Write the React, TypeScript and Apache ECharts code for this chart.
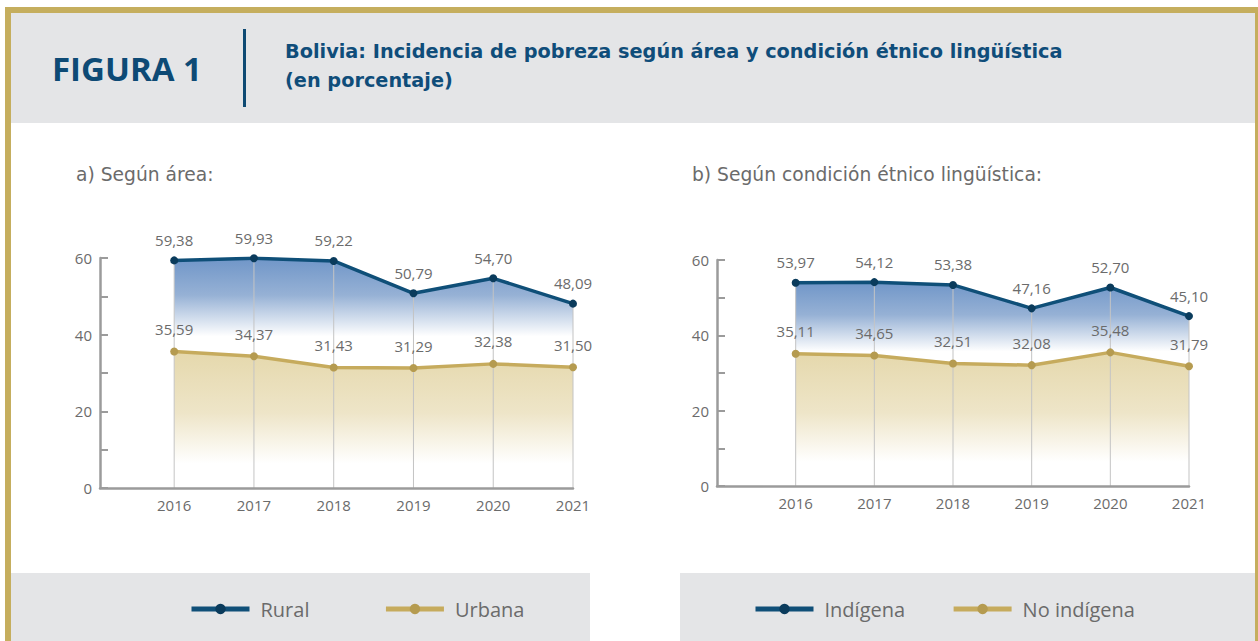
import React, { useEffect, useRef } from 'react';
import * as echarts from 'echarts';

const years = ['2016', '2017', '2018', '2019', '2020', '2021'];
const rural = [59.38, 59.93, 59.22, 50.79, 54.7, 48.09];
const urbana = [35.59, 34.37, 31.43, 31.29, 32.38, 31.5];
const indigena = [53.97, 54.12, 53.38, 47.16, 52.7, 45.1];
const noIndigena = [35.11, 34.65, 32.51, 32.08, 35.48, 31.79];
const yLabelValues = [0, 20, 40, 60];
const yTickValues = [0, 10, 20, 30, 40, 50, 60];

const BLUE = '#0f4f78';
const BLUE_DOT = '#0a3b5c';
const GOLD = '#c6ab5d';
const GOLD_DOT = '#b59b50';
const GOLD_FRAME = '#c5ae5e';
const GRAY_BG = '#e4e5e7';
const TEXT = '#6b6b6b';
const AXIS = '#9b9b9b';
const FONT = 'Open Sans';
const WIDE = 'DejaVu Sans';

const fmt = (v: number) => v.toFixed(2).replace('.', ',');

function pairs(vals: number[]) {
  return years.map((y, i) => [Number(y), vals[i]]);
}

function makeSeries(idx: number, topName: string, top: number[], botName: string, bot: number[]) {
  const common = { xAxisIndex: idx, yAxisIndex: idx };
  return [
    {
      ...common,
      name: topName + ' (área)',
      type: 'line',
      data: pairs(top),
      symbol: 'none',
      lineStyle: { width: 0 },
      silent: true,
      z: 1,
      areaStyle: {
        opacity: 1,
        color: new echarts.graphic.LinearGradient(0, 0, 0, 1, [
          { offset: 0, color: 'rgba(112,150,200,1)' },
          { offset: 0.16, color: 'rgba(150,177,213,1)' },
          { offset: 0.34, color: 'rgba(255,255,255,1)' },
          { offset: 1, color: 'rgba(255,255,255,1)' },
        ]),
      },
    },
    {
      ...common,
      name: botName + ' (área)',
      type: 'line',
      data: pairs(bot),
      symbol: 'none',
      lineStyle: { width: 0 },
      silent: true,
      z: 1,
      areaStyle: {
        opacity: 1,
        color: new echarts.graphic.LinearGradient(0, 0, 0, 1, [
          { offset: 0, color: 'rgba(229,216,172,1)' },
          { offset: 0.45, color: 'rgba(238,229,200,1)' },
          { offset: 0.82, color: 'rgba(255,255,255,1)' },
          { offset: 1, color: 'rgba(255,255,255,1)' },
        ]),
      },
    },
    {
      ...common,
      name: topName + ' (guía)',
      type: 'bar',
      data: pairs(top),
      barWidth: 1,
      silent: true,
      z: 2,
      itemStyle: { color: '#c4c4c4' },
    },
    {
      ...common,
      name: topName,
      type: 'line',
      data: pairs(top),
      symbol: 'circle',
      symbolSize: 8,
      z: 5,
      lineStyle: { color: BLUE, width: 3.5 },
      itemStyle: { color: BLUE_DOT },
      label: {
        show: true,
        position: 'top',
        distance: 9,
        formatter: (p: any) => fmt(p.value[1]),
        color: TEXT,
        fontSize: 15,
        fontFamily: FONT,
      },
    },
    {
      ...common,
      name: botName,
      type: 'line',
      data: pairs(bot),
      symbol: 'circle',
      symbolSize: 8,
      z: 5,
      lineStyle: { color: GOLD, width: 3.5 },
      itemStyle: { color: GOLD_DOT },
      label: {
        show: true,
        position: 'top',
        distance: 11,
        formatter: (p: any) => fmt(p.value[1]),
        color: TEXT,
        fontSize: 15,
        fontFamily: FONT,
      },
    },
  ];
}

function xAxis(idx: number, min: number) {
  return {
    gridIndex: idx,
    type: 'value',
    z: 4,
    min,
    max: Number(years[years.length - 1]),
    axisLine: { show: true, lineStyle: { color: AXIS, width: 2.5 } },
    axisTick: { show: false },
    splitLine: { show: false },
    axisLabel: {
      customValues: years.map(Number),
      formatter: (v: number) => String(v),
      color: TEXT,
      fontSize: 15,
      fontFamily: FONT,
      margin: 9,
    },
  };
}

function yAxis(idx: number) {
  return {
    gridIndex: idx,
    type: 'value',
    z: 4,
    min: 0,
    max: 60,
    interval: 20,
    axisLine: { show: true, lineStyle: { color: AXIS, width: 2.5 } },
    axisTick: {
      show: true,
      inside: true,
      length: 8,
      customValues: yTickValues,
      lineStyle: { color: AXIS, width: 2 },
    },
    splitLine: { show: false },
    axisLabel: {
      customValues: yLabelValues,
      color: TEXT,
      fontSize: 15,
      fontFamily: FONT,
      margin: 8,
    },
  };
}

function legend(left: number, gap: number, names: string[]) {
  return {
    left,
    top: 599,
    padding: 0,
    itemWidth: 58,
    itemHeight: 13,
    itemGap: gap,
    data: names,
    selectedMode: false,
    lineStyle: { width: 5 },
    textStyle: { color: TEXT, fontSize: 20, fontFamily: FONT, padding: [0, 0, 0, 6] },
  };
}

export default function App() {
  const ref = useRef<HTMLDivElement>(null);
  useEffect(() => {
    if (!ref.current) return;
    const chart = echarts.init(ref.current, undefined, { renderer: 'svg' });
    const option: any = {
      animation: false,
      backgroundColor: '#ffffff',
      grid: [
        { left: 100, top: 258, width: 473, height: 230 },
        { left: 717, top: 260, width: 472, height: 226 },
      ],
      xAxis: [xAxis(0, 2015.07), xAxis(1, 2015)],
      yAxis: [yAxis(0), yAxis(1)],
      legend: [legend(189, 74, ['Rural', 'Urbana']), legend(753, 46, ['Indígena', 'No indígena'])],
      series: [
        ...makeSeries(0, 'Rural', rural, 'Urbana', urbana),
        ...makeSeries(1, 'Indígena', indigena, 'No indígena', noIndigena),
      ],
      graphic: [
        { type: 'rect', z: -10, shape: { x: 11, y: 13, width: 1245, height: 110 }, style: { fill: GRAY_BG } },
        { type: 'rect', z: -10, shape: { x: 11, y: 573, width: 579, height: 68 }, style: { fill: GRAY_BG } },
        { type: 'rect', z: -10, shape: { x: 680, y: 573, width: 576, height: 68 }, style: { fill: GRAY_BG } },
        { type: 'rect', z: -5, shape: { x: 5, y: 7, width: 1253, height: 6 }, style: { fill: GOLD_FRAME } },
        { type: 'rect', z: -5, shape: { x: 5, y: 7, width: 6, height: 634 }, style: { fill: GOLD_FRAME } },
        { type: 'rect', z: -5, shape: { x: 1255, y: 7, width: 3, height: 634 }, style: { fill: GOLD_FRAME } },
        { type: 'rect', z: -5, shape: { x: 243, y: 29, width: 3, height: 78 }, style: { fill: '#0e4a73' } },
        {
          type: 'text',
          x: 52,
          y: 68,
          style: { text: 'FIGURA 1', fill: '#0d4a75', fontSize: 33, fontWeight: 'bold', fontFamily: FONT, verticalAlign: 'middle' },
        },
        {
          type: 'text',
          x: 285,
          y: 51,
          style: {
            text: 'Bolivia: Incidencia de pobreza según área y condición étnico lingüística',
            fill: '#0f4d7a',
            fontSize: 19.3,
            fontWeight: 'bold',
            fontFamily: WIDE,
            verticalAlign: 'middle',
          },
        },
        {
          type: 'text',
          x: 285,
          y: 80,
          style: { text: '(en porcentaje)', fill: '#0f4d7a', fontSize: 19.3, fontWeight: 'bold', fontFamily: WIDE, verticalAlign: 'middle' },
        },
        {
          type: 'text',
          x: 76,
          y: 174,
          style: { text: 'a) Según área:', fill: TEXT, fontSize: 18.7, fontFamily: WIDE, verticalAlign: 'middle' },
        },
        {
          type: 'text',
          x: 692,
          y: 174,
          style: { text: 'b) Según condición étnico lingüística:', fill: TEXT, fontSize: 18.7, fontFamily: WIDE, verticalAlign: 'middle' },
        },
      ],
    };
    chart.setOption(option);
    return () => chart.dispose();
  }, []);
  return <div ref={ref} style={{ position: 'fixed', left: 0, top: 0, width: 1258, height: 641 }} />;
}
